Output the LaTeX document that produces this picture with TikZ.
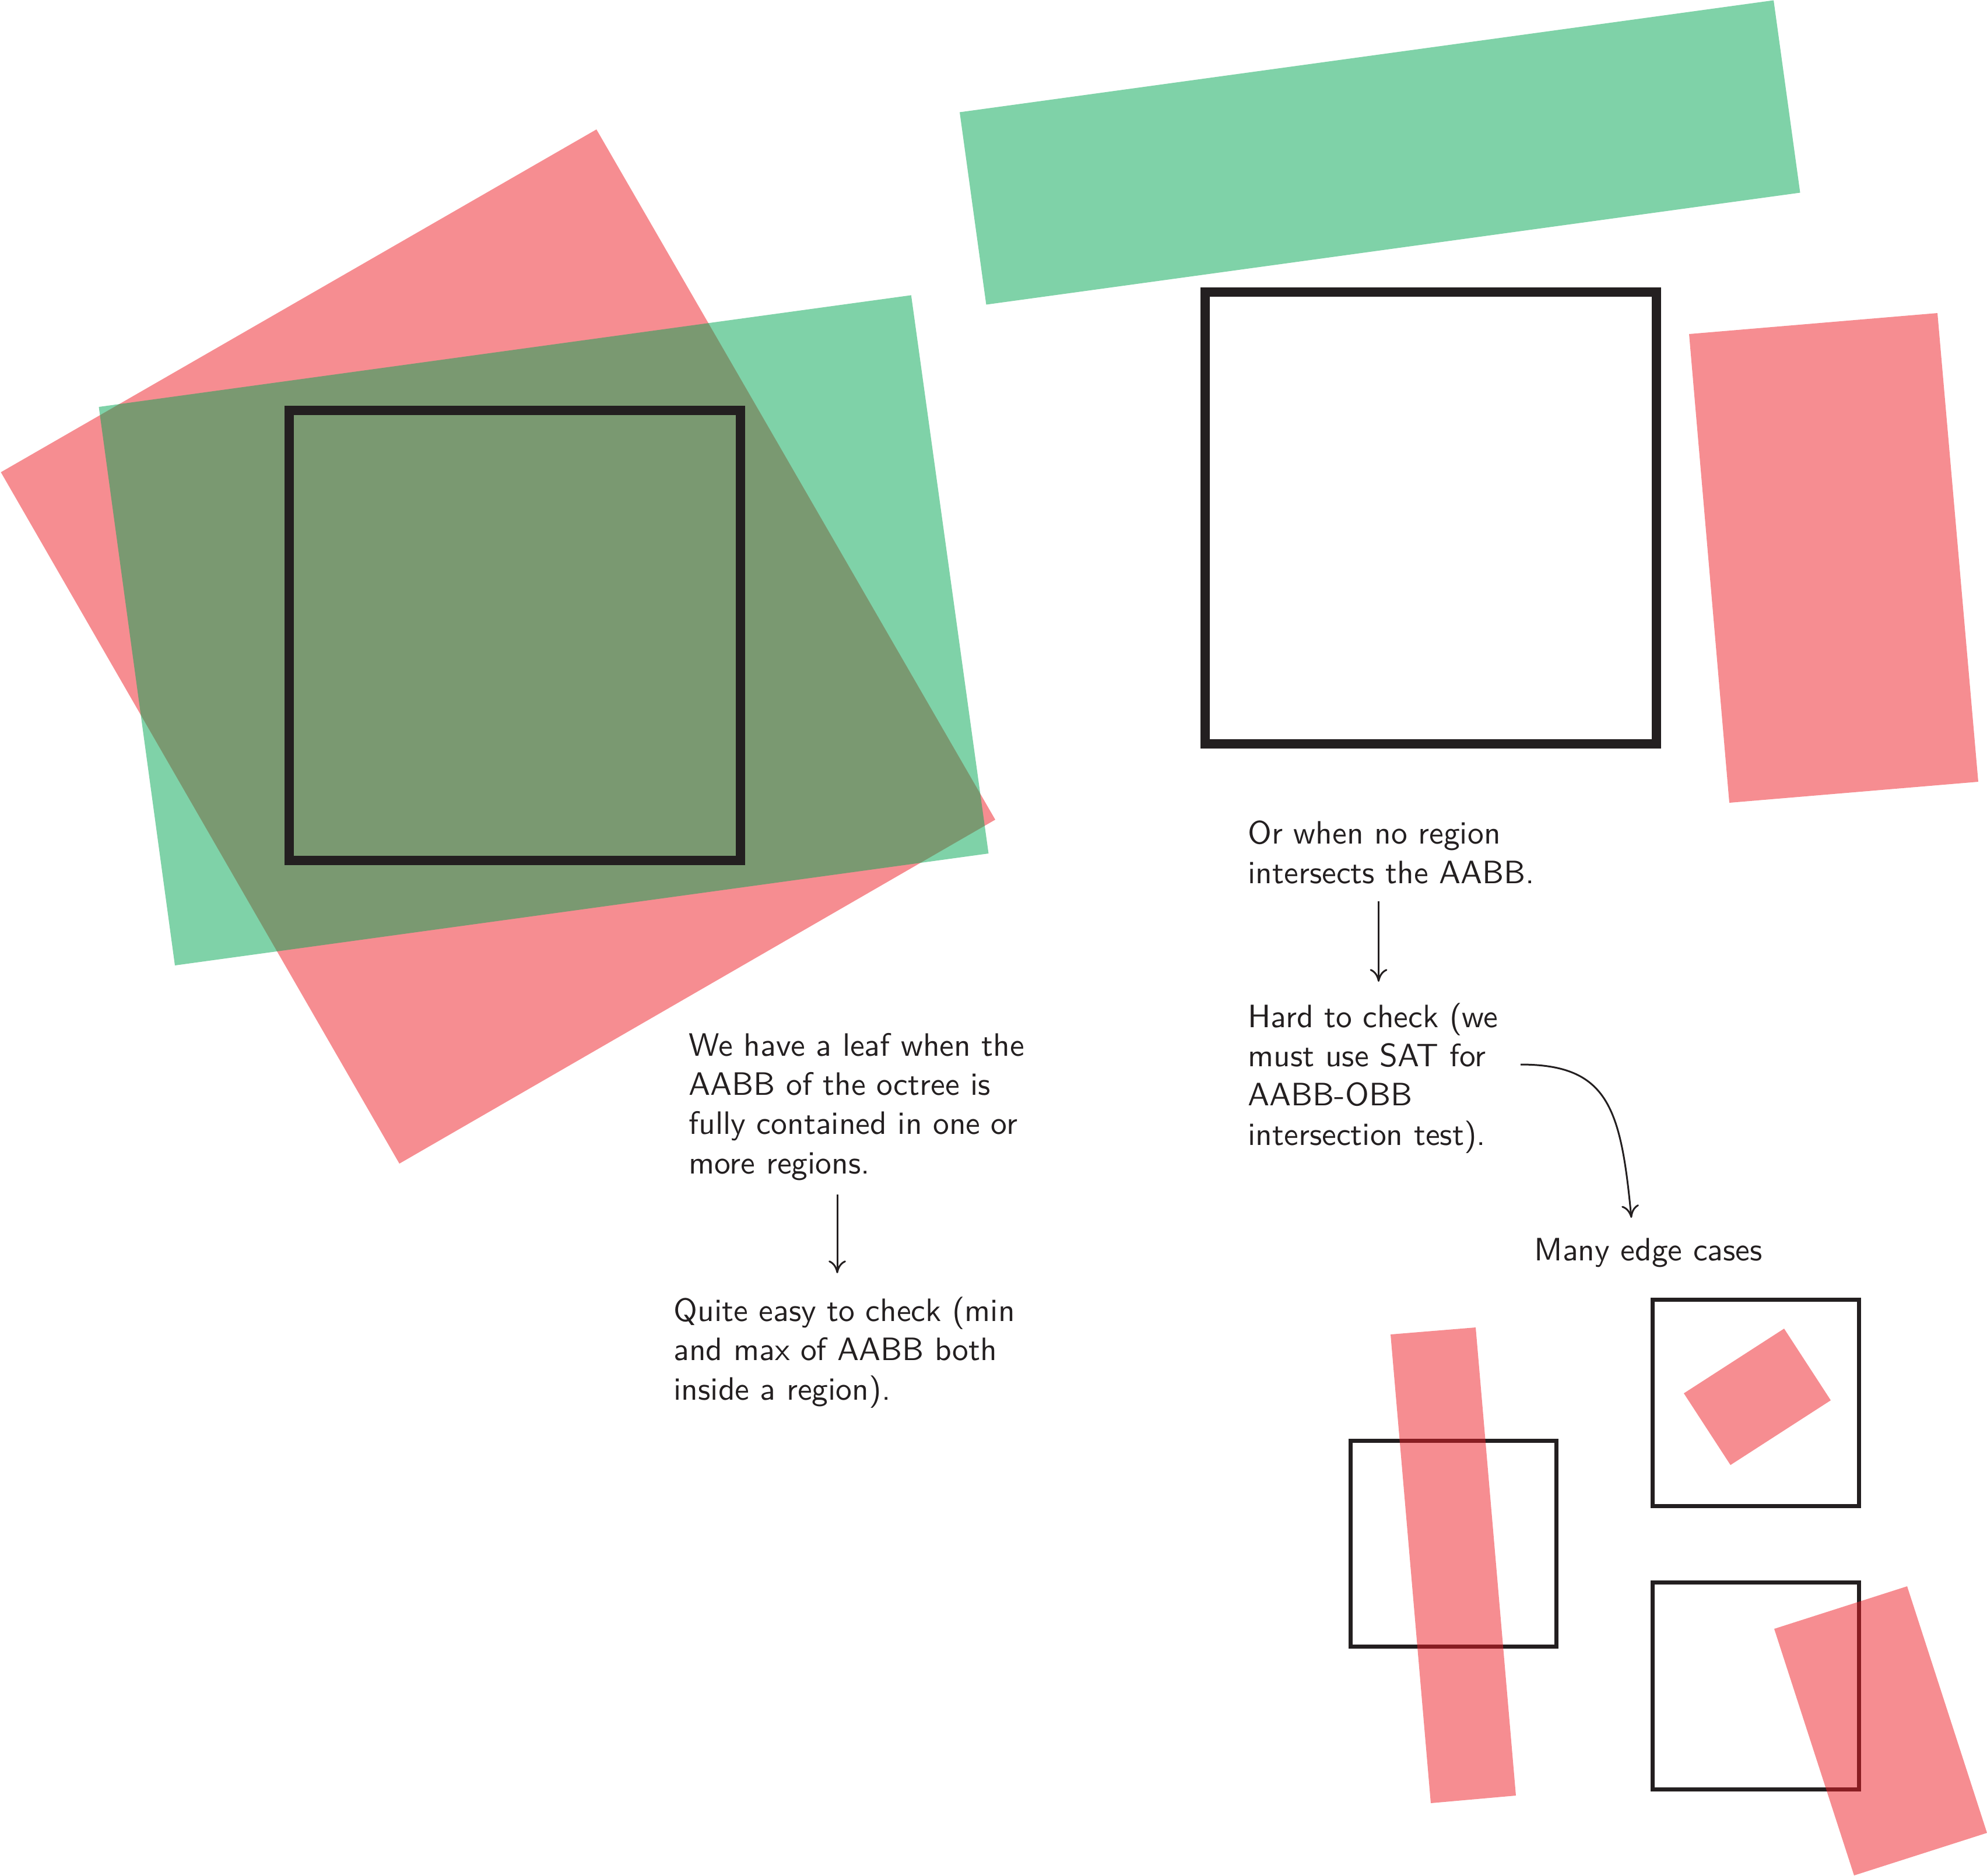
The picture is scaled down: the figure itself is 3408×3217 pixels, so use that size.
\documentclass[tikz,border=0pt]{standalone}
\usepackage{fontspec}
\usepackage{tikz}
\usetikzlibrary{arrows.meta}
\newfontfamily\notefont{lmsans10-regular.otf}
\definecolor{regionred}{RGB}{237,28,36}
\definecolor{regiongreen}{RGB}{0,166,81}
\definecolor{aabbblack}{RGB}{35,31,32}

\begin{document}
\begin{tikzpicture}[x=0.01cm, y=-0.01cm, line width=0.85pt]
		\tikzstyle{redregion}=[fill=regionred, fill opacity=0.5]
		\tikzstyle{greenregion}=[fill=regiongreen, fill opacity=0.5]
		\tikzstyle{aabb}=[draw=aabbblack, line width=4.4pt]
		\tikzstyle{smallaabb}=[draw=aabbblack, line width=2pt]
		\tikzstyle{note}=[anchor=base west, inner sep=0pt, align=left, text=aabbblack, font=\notefont\fontsize{15.8}{19.1}\selectfont]
		\tikzstyle{arr}=[-{Computer Modern Rightarrow[length=6.2pt,width=8.5pt]}, draw=aabbblack]
		\useasboundingbox (0,0) rectangle (3408,3217);
		\fill[redregion] (1023,222) -- (1707,1406) -- (685,1996) -- (1.5,810) -- cycle;
		\fill[greenregion] (169.5,698) -- (1562.8,506.4) -- (1695.5,1464) -- (300,1656) -- cycle;
		\draw[aabb] (496,704) rectangle (1270,1476);
		\fill[greenregion] (1646,192.5) -- (3042,0.5) -- (3087.5,330.5) -- (1691.5,522.5) -- cycle;
		\fill[redregion] (2897,573) -- (3323,537) -- (3393,1341) -- (2966,1377) -- cycle;
		\draw[aabb] (2067,501) rectangle (2841,1276);
		\draw[smallaabb] (2316.5,2471.5) rectangle (2669.5,2824.5);
		\draw[smallaabb] (2834.5,2229.5) rectangle (3188.5,2583.5);
		\draw[smallaabb] (2834.5,2714.5) rectangle (3188.5,3069.5);
		\fill[redregion] (2385,2289) -- (2531,2277) -- (2600,3080) -- (2454,3093) -- cycle;
		\fill[redregion] (2888,2390) -- (3060,2279) -- (3140,2402) -- (2968,2513) -- cycle;
		\fill[redregion] (3043,2794) -- (3271,2721) -- (3408,3144) -- (3180,3217) -- cycle;
		\node[note] (leaf) at (1180,2013) {We have a leaf when the\\AABB of the octree is\\fully contained in one or\\more regions.};
		\node[note] (easy) at (1154,2401) {Quite easy to check (min\\and max of AABB both\\inside a region).};
		\node[note] (noregion) at (2139,1515) {Or when no region\\intersects the AABB.};
		\node[note] (hard) at (2139,1964) {Hard to check (we\\must use SAT for\\AABB-OBB\\intersection test).};
		\node[note] (many) at (2630,2162) {Many edge cases};
		\draw[arr] ([shift={(256,36)}]leaf.base west) -- ([shift={(282,-217)}]easy.base west);
		\draw[arr] ([shift={(225.5,31)}]noregion.base west) -- ([shift={(225.5,-280)}]hard.base west);
		\draw[arr] ([shift={(469,-138)}]hard.base west) .. controls +(150,0) and +(-18,-189) .. ([shift={(168,-73)}]many.base west);
	\end{tikzpicture}
\end{document}
